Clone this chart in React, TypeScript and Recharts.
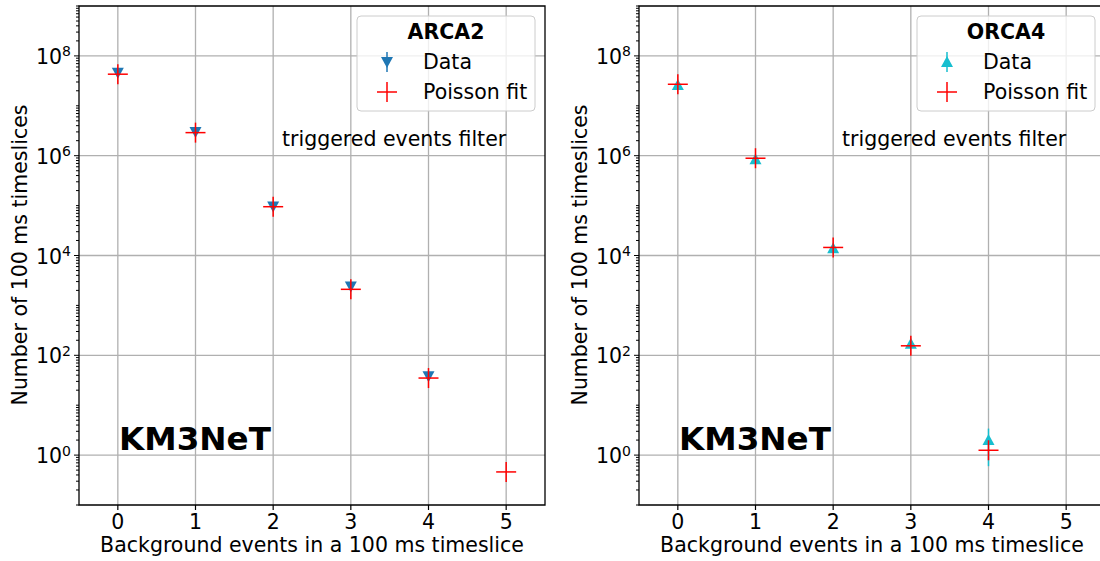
import React from "react";
import {
  ScatterChart,
  Scatter,
  XAxis,
  YAxis,
  CartesianGrid,
  ErrorBar,
  ReferenceArea,
} from "recharts";

// Background events per 100 ms timeslice
const events = [0, 1, 2, 3, 4, 5];

// ARCA2
const arcaData = [4.6e7, 3.0e6, 9.6e4, 2.4e3, 38];
const arcaDataErr = [6800, 1730, 310, 49, 6.2];
const arcaFit = [4.3e7, 2.9e6, 9.5e4, 2.1e3, 35, 0.46];

// ORCA4
const orcaData = [2.6e7, 8.5e5, 1.4e4, 170, 2];
const orcaDataErr = [5100, 920, 118, 13, 1.4];
const orcaFit = [2.7e7, 8.9e5, 1.45e4, 155, 1.25];

// Axis ticks
const xTicks = [0, 1, 2, 3, 4, 5];
const yMajorTicks = [1, 1e2, 1e4, 1e6, 1e8];
const yDecades = [0.1, 1, 10, 1e2, 1e3, 1e4, 1e5, 1e6, 1e7, 1e8];
const yMinorSubs = [2, 3, 4, 5, 6, 7, 8, 9];
const yTicks = [
  ...yDecades,
  1e9,
  ...yDecades.flatMap((d) => yMinorSubs.map((s) => s * d)),
];

const FONT = "DejaVu Sans";
const FS = 20.5;

const XTick = ({ x, y, payload }: any) => (
  <g>
    <line x1={x} x2={x} y1={y} y2={y + 5} stroke="#000" strokeWidth={1.2} />
    <text
      x={x}
      y={y + 24}
      textAnchor="middle"
      fontSize={FS}
      fontFamily={FONT}
      fill="#000"
    >
      {payload.value}
    </text>
  </g>
);

const YTick = ({ x, y, payload }: any) => {
  const v = payload.value;
  const exp = Math.round(Math.log10(v));
  const major = yMajorTicks.includes(v);
  const len = major ? 5 : 3;
  return (
    <g>
      <line x1={x - len} x2={x} y1={y} y2={y} stroke="#000" strokeWidth={1} />
      {major && (
        <text
          x={x - 8}
          y={y + 8}
          textAnchor="end"
          fontSize={FS}
          fontFamily={FONT}
          fill="#000"
        >
          10
          <tspan dy={-7.5} fontSize={14}>
            {exp}
          </tspan>
        </text>
      )}
    </g>
  );
};

const makeTriangle =
  (color: string, down: boolean) =>
  ({ cx, cy }: any) => {
    const pts = down
      ? `${cx - 6},${cy - 5} ${cx + 6},${cy - 5} ${cx},${cy + 6}`
      : `${cx - 6},${cy + 5} ${cx + 6},${cy + 5} ${cx},${cy - 6}`;
    return <polygon points={pts} fill={color} />;
  };

const Cross = ({ cx, cy }: any) => (
  <g stroke="#ff0000" strokeWidth={1.5}>
    <line x1={cx - 10} x2={cx + 10} y1={cy} y2={cy} />
    <line x1={cx} x2={cx} y1={cy - 10} y2={cy + 10} />
  </g>
);

interface PanelProps {
  title: string;
  data: number[];
  dataErr: number[];
  fit: number[];
  color: string;
  down: boolean;
  left: number;
}

const Panel: React.FC<PanelProps> = ({
  title,
  data,
  dataErr,
  fit,
  color,
  down,
  left,
}) => {
  const dataPoints = data.map((v, i) => ({ x: events[i], y: v, err: dataErr[i] }));
  const fitPoints = fit.map((v, i) => ({ x: events[i], y: v }));
  const tri = makeTriangle(color, down);
  const legendTri = down
    ? "381,57 393,57 387,68"
    : "381,67 393,67 387,56";

  return (
    <div style={{ position: "absolute", left, top: 0, width: 560, height: 561 }}>
      <ScatterChart
        width={560}
        height={561}
        margin={{ top: 6, right: 15, bottom: 0, left: 0 }}
      >
        <CartesianGrid
          stroke="#b0b0b0"
          strokeWidth={1.3}
          verticalValues={xTicks}
          horizontalValues={yMajorTicks}
        />
        <XAxis
          type="number"
          dataKey="x"
          domain={[-0.5, 5.5]}
          ticks={xTicks}
          interval={0}
          height={56}
          tickSize={0}
          tickMargin={0}
          tickLine={false}
          axisLine={false}
          tick={<XTick />}
          allowDataOverflow
        />
        <YAxis
          type="number"
          dataKey="y"
          scale="log"
          domain={[0.1, 1e9]}
          ticks={yTicks}
          interval={0}
          width={79}
          tickSize={0}
          tickMargin={0}
          tickLine={false}
          axisLine={false}
          tick={<YTick />}
          allowDataOverflow
        />
        <ReferenceArea
          x1={-0.5}
          x2={5.5}
          y1={0.1}
          y2={1e9}
          fill="#fff"
          fillOpacity={0}
          stroke="#000"
          strokeWidth={1.3}
          ifOverflow="visible"
        />
        <Scatter data={dataPoints} shape={tri} isAnimationActive={false}>
          <ErrorBar
            dataKey="err"
            direction="y"
            width={0}
            stroke={color}
            strokeWidth={1.5}
          />
        </Scatter>
        <Scatter data={fitPoints} shape={Cross} isAnimationActive={false} />
      </ScatterChart>

      <svg
        width={560}
        height={561}
        style={{ position: "absolute", left: 0, top: 0, pointerEvents: "none" }}
        fontFamily={FONT}
      >
        <text x={312} y={552} textAnchor="middle" fontSize={FS} fill="#000">
          Background events in a 100 ms timeslice
        </text>
        <text
          x={27}
          y={255}
          textAnchor="middle"
          fontSize={FS}
          fill="#000"
          transform="rotate(-90, 27, 255)"
        >
          Number of 100 ms timeslices
        </text>
        <text x={282} y={146} fontSize={FS} fill="#000">
          triggered events filter
        </text>
        <text x={119} y={450} fontSize={32.6} fontWeight="bold" fill="#000">
          KM3NeT
        </text>

        {/* legend */}
        <rect
          x={357}
          y={16}
          width={178}
          height={95}
          rx={4}
          fill="#fff"
          fillOpacity={0.8}
          stroke="#cccccc"
          strokeWidth={1}
        />
        <text
          x={446}
          y={39}
          textAnchor="middle"
          fontSize={FS}
          fontWeight="bold"
          fill="#000"
        >
          {title}
        </text>
        <line x1={387} x2={387} y1={52} y2={72} stroke={color} strokeWidth={1.5} />
        <polygon points={legendTri} fill={color} />
        <text x={423} y={69} fontSize={FS} fill="#000">
          Data
        </text>
        <g stroke="#ff0000" strokeWidth={1.5}>
          <line x1={377} x2={397} y1={92} y2={92} />
          <line x1={387} x2={387} y1={82} y2={102} />
        </g>
        <text x={423} y={99} fontSize={FS} fill="#000">
          Poisson fit
        </text>
      </svg>
    </div>
  );
};

export default function App() {
  return (
    <div
      style={{
        position: "absolute",
        left: 0,
        top: 0,
        width: 1100,
        height: 561,
        overflow: "hidden",
        background: "#fff",
      }}
    >
      <Panel
        title="ARCA2"
        data={arcaData}
        dataErr={arcaDataErr}
        fit={arcaFit}
        color="#1f77b4"
        down={true}
        left={0}
      />
      <Panel
        title="ORCA4"
        data={orcaData}
        dataErr={orcaDataErr}
        fit={orcaFit}
        color="#17becf"
        down={false}
        left={560}
      />
    </div>
  );
}
